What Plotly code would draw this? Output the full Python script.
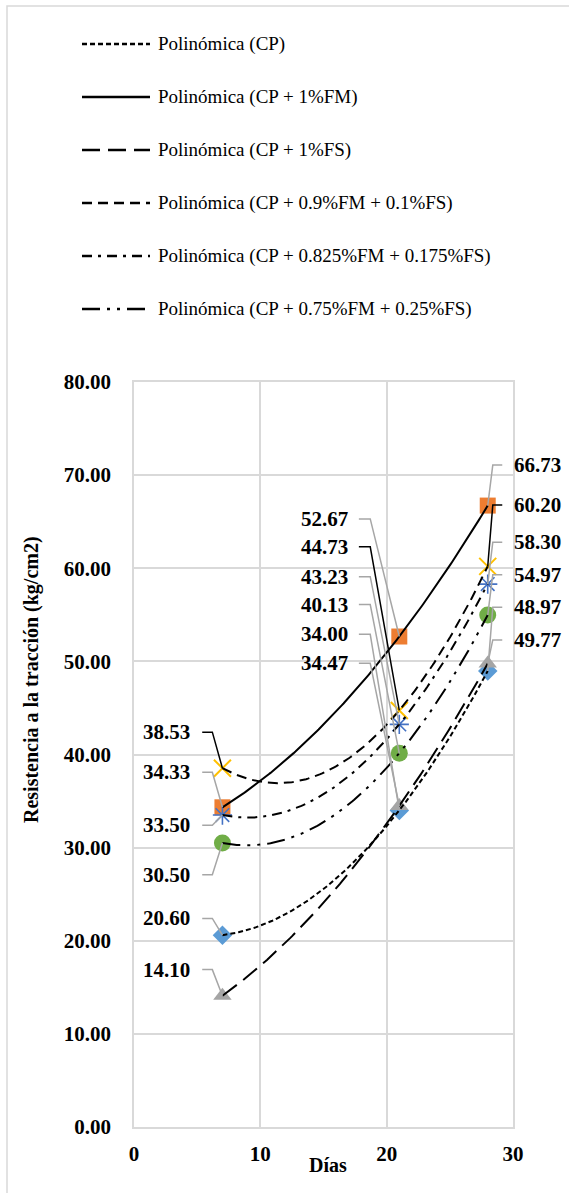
import numpy as np
import plotly.graph_objects as go

# ---------------- data ----------------
dias = [7, 21, 28]
series_names = [
    "Polinómica (CP)",
    "Polinómica (CP + 1%FM)",
    "Polinómica (CP + 1%FS)",
    "Polinómica (CP + 0.9%FM + 0.1%FS)",
    "Polinómica (CP + 0.825%FM + 0.175%FS)",
    "Polinómica (CP + 0.75%FM + 0.25%FS)",
]
cp = [20.60, 34.00, 48.97]
cp_fm = [34.33, 52.67, 66.73]
cp_fs = [14.10, 34.47, 49.77]
cp_09 = [38.53, 44.73, 60.20]
cp_0825 = [33.50, 43.23, 58.30]
cp_075 = [30.50, 40.13, 54.97]
values = [cp, cp_fm, cp_fs, cp_09, cp_0825, cp_075]

y_ticks = [0, 10, 20, 30, 40, 50, 60, 70, 80]
x_ticks = [0, 10, 20, 30]

# ---------------- styles / layout positions ----------------
marker_styles = [
    dict(symbol="diamond", size=15, color="#5B9BD5"),
    dict(symbol="square", size=16, color="#ED7D31"),
    dict(symbol="triangle-up", size=16, color="#A5A5A5"),
    dict(symbol="x-thin-open", size=17, color="#FFC000", line=dict(width=2, color="#FFC000")),
    dict(symbol="asterisk-open", size=16, color="#4472C4", line=dict(width=1.6, color="#4472C4")),
    dict(symbol="circle", size=17, color="#70AD47"),
]
dashes = ["5px,3px", "solid", "18px,8px", "10px,6px", "10px,6px,3px,6px", "18px,7px,3px,7px,3px,7px"]
leader_colors = ["#A6A6A6", "#A6A6A6", "#A6A6A6", "#000000", "#A6A6A6", "#A6A6A6"]

# label y positions (in axis units) for each series at each of the three days
label_y = [
    [22.4, 52.9, 55.8],
    [38.1, 65.3, 71.1],
    [16.9, 49.8, 52.3],
    [42.4, 62.3, 66.8],
    [32.4, 59.1, 62.8],
    [27.1, 56.1, 59.3],
]
label_x = [4.6, 17.1, 29.9]
label_anchor = ["right", "right", "left"]
stub = [(5.4, 6.2), (17.8, 18.7), (29.15, 28.4)]

W, H = 569, 1193
L, R, T, B = 134, 56, 382, 66
PW, PH = W - L - R, H - T - B


def xp(px):
    return (px - L) / PW


def yp(py):
    return (H - B - py) / PH


FONT = "Liberation Serif"

fig = go.Figure()

# markers
for vals, ms in zip(values, marker_styles):
    fig.add_trace(go.Scatter(x=dias, y=vals, mode="markers", marker=ms,
                             showlegend=False, hoverinfo="x+y", cliponaxis=False))

# polynomial trend lines (order 2)
for name, vals, dash in zip(series_names, values, dashes):
    coef = np.polyfit(dias, vals, 2)
    xs = np.linspace(min(dias), max(dias), 150)
    ys = np.polyval(coef, xs)
    fig.add_trace(go.Scatter(x=xs, y=ys, mode="lines", name=name,
                             line=dict(color="black", width=2, dash=dash),
                             showlegend=False, hoverinfo="skip"))

# leader lines and data labels
annotations = []
for s, vals in enumerate(values):
    for i, (d, v) in enumerate(zip(dias, vals)):
        ly = label_y[s][i]
        fig.add_trace(go.Scatter(x=[stub[i][0], stub[i][1], d], y=[ly, ly, v], mode="lines",
                                 line=dict(color=leader_colors[s], width=1.5),
                                 showlegend=False, hoverinfo="skip", cliponaxis=False))
        annotations.append(dict(x=label_x[i], y=ly, xref="x", yref="y", text=f"{v:.2f}",
                                showarrow=False, xanchor=label_anchor[i], yanchor="middle",
                                font=dict(family=FONT, size=21, color="black", weight="bold")))

# legend drawn at the top
shapes = []
for k, (name, dash) in enumerate(zip(series_names, dashes)):
    cy = 44 + 53 * k
    shapes.append(dict(type="line", xref="paper", yref="paper", x0=xp(82), x1=xp(150),
                       y0=yp(cy), y1=yp(cy), line=dict(color="black", width=2.4, dash=dash)))
    annotations.append(dict(x=xp(156), y=yp(cy), xref="paper", yref="paper", text=name,
                            showarrow=False, xanchor="left", yanchor="middle",
                            font=dict(family=FONT, size=19, color="black")))

# chart area border
shapes.append(dict(type="rect", xref="paper", yref="paper", x0=xp(7), x1=xp(800),
                   y0=yp(1400), y1=yp(6), line=dict(color="#D9D9D9", width=1.5), layer="below"))

# axis titles
annotations.append(dict(x=xp(328), y=yp(1165), xref="paper", yref="paper", text="Días",
                        showarrow=False, xanchor="center", yanchor="middle",
                        font=dict(family=FONT, size=20, color="black", weight="bold")))
annotations.append(dict(x=xp(31), y=yp(680), xref="paper", yref="paper",
                        text="Resistencia a la tracción (kg/cm2)", textangle=-90,
                        showarrow=False, xanchor="center", yanchor="middle",
                        font=dict(family=FONT, size=20, color="black", weight="bold")))

fig.update_layout(
    width=W, height=H,
    margin=dict(l=L, r=R, t=T, b=B),
    paper_bgcolor="white", plot_bgcolor="white",
    showlegend=False,
    annotations=annotations, shapes=shapes,
    font=dict(family=FONT, color="black"),
)
fig.update_xaxes(range=[0, 30], tickvals=x_ticks, showgrid=True, gridcolor="#D9D9D9", gridwidth=1.5,
                 showline=True, linecolor="#D9D9D9", linewidth=1.5, mirror=True, zeroline=False,
                 ticks="", ticklabelstandoff=7,
                 tickfont=dict(family=FONT, size=21, color="black", weight="bold"))
fig.update_yaxes(range=[0, 80], tickvals=y_ticks, tickformat=".2f", showgrid=True, gridcolor="#D9D9D9",
                 gridwidth=1.5, showline=True, linecolor="#D9D9D9", linewidth=1.5, mirror=True,
                 zeroline=False, ticks="", ticklabelstandoff=17,
                 tickfont=dict(family=FONT, size=21, color="black", weight="bold"))

fig.write_html("out.html", config={"displayModeBar": False},
               post_script="document.body.style.margin='0';")
